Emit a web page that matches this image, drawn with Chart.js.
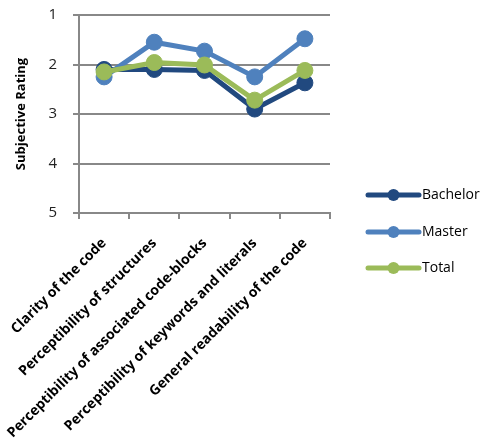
<!DOCTYPE html>
<html>
<head>
<meta charset="utf-8">
<script src="https://cdn.jsdelivr.net/npm/chart.js@4/dist/chart.umd.min.js"></script>
<style>
  html, body { margin: 0; padding: 0; background: #fff; }
  #wrap { width: 489px; height: 444px; position: relative; }
</style>
</head>
<body>
<div id="wrap"><canvas id="c" width="489" height="444"></canvas></div>
<script>
// Criteria rated by participants (1 = best, 5 = worst)
const categories = [
  "Clarity of the code",
  "Perceptibility of structures",
  "Perceptibility of associated code-blocks",
  "Perceptibility of keywords and literals",
  "General readability of the code"
];
const bachelor = [2.10, 2.10, 2.12, 2.90, 2.37];
const master   = [2.25, 1.55, 1.73, 2.25, 1.48];
const total    = [2.15, 1.96, 2.01, 2.72, 2.12];
const ratingTicks = [1, 2, 3, 4, 5];

const seriesNames = ["Bachelor", "Master", "Total"];
const seriesColors = ["#21497f", "#4f81bd", "#9bbb59"];

const FONT = "'Open Sans', 'DejaVu Sans', sans-serif";

function makeSet(i, values, order) {
  return {
    label: seriesNames[i],
    data: values,
    borderColor: seriesColors[i],
    backgroundColor: seriesColors[i],
    pointBackgroundColor: seriesColors[i],
    pointBorderColor: seriesColors[i],
    borderWidth: 5,
    pointRadius: 8,
    pointBorderWidth: 1,
    tension: 0,
    order: order
  };
}

// Legend drawn at the right: a line sample with a dot, then the name
const sideLegend = {
  id: 'sideLegend',
  afterDraw(chart) {
    const ctx = chart.ctx;
    const rows = [195, 232, 268];
    ctx.save();
    chart.data.datasets.forEach((ds, i) => {
      const y = rows[i];
      ctx.strokeStyle = ds.borderColor;
      ctx.lineWidth = 5;
      ctx.lineCap = 'round';
      ctx.beginPath();
      ctx.moveTo(368, y);
      ctx.lineTo(419, y);
      ctx.stroke();
      ctx.fillStyle = ds.borderColor;
      ctx.beginPath();
      ctx.arc(393.5, y, 6, 0, Math.PI * 2);
      ctx.fill();
      ctx.fillStyle = '#000';
      ctx.font = "14px " + FONT;
      ctx.textBaseline = 'middle';
      ctx.textAlign = 'left';
      ctx.fillText(ds.label, 422, y);
    });
    ctx.restore();
  }
};

new Chart(document.getElementById('c'), {
  type: 'line',
  data: {
    labels: categories,
    datasets: [
      makeSet(0, bachelor, 2),
      makeSet(1, master, 1),
      makeSet(2, total, 0)
    ]
  },
  options: {
    responsive: false,
    animation: false,
    devicePixelRatio: 1,
    layout: { padding: { top: 15, right: 159, left: 0, bottom: 0 } },
    plugins: { legend: { display: false }, tooltip: { enabled: false } },
    scales: {
      x: {
        offset: true,
        grid: {
          offset: true,
          drawOnChartArea: false,
          drawTicks: true,
          tickLength: 6,
          color: '#888',
          lineWidth: 2
        },
        border: { color: '#888', width: 2 },
        ticks: {
          minRotation: 45,
          maxRotation: 45,
          autoSkip: false,
          padding: 16,
          color: '#000',
          font: { family: FONT, size: 14, weight: 'bold' }
        },
        afterFit(s) {
          s.height = 231;
          s.paddingLeft = 0;
          s.paddingRight = 0;
        }
      },
      y: {
        reverse: true,
        min: 1,
        max: 5,
        afterBuildTicks(s) { s.ticks = ratingTicks.map(v => ({ value: v })); },
        grid: {
          color: '#888',
          lineWidth: 2,
          drawTicks: true,
          tickLength: 6
        },
        border: { color: '#888', width: 2 },
        ticks: {
          padding: 16,
          color: '#222',
          font: { family: FONT, size: 15 }
        },
        title: {
          display: true,
          text: 'Subjective Rating',
          color: '#000',
          padding: { top: 13, bottom: 0 },
          font: { family: FONT, size: 13, weight: 'bold' }
        },
        afterFit(s) {
          s.width = 79;
          s.paddingTop = 0;
          s.paddingBottom = 0;
        }
      }
    }
  },
  plugins: [sideLegend]
});
</script>
</body>
</html>
